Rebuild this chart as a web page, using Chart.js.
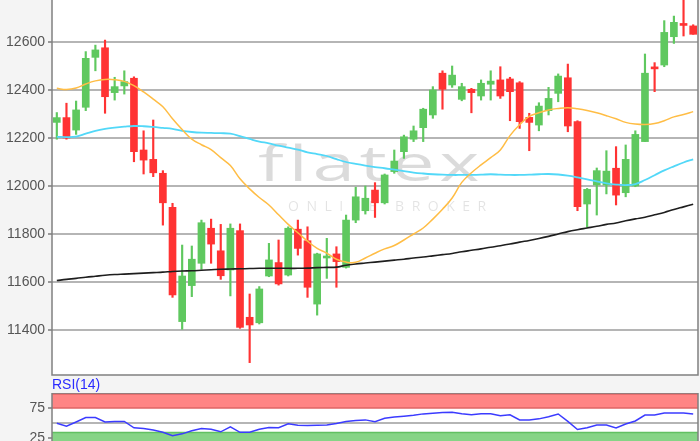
<!DOCTYPE html>
<html>
<head>
<meta charset="utf-8">
<script src="https://cdn.jsdelivr.net/npm/chart.js@4/dist/chart.umd.min.js"></script>
<style>
  html, body { margin: 0; padding: 0; width: 700px; height: 441px; overflow: hidden; background: #f4f4f4; }
  #main { position: absolute; left: 0; top: 0; }
  #rsi { position: absolute; left: 0; top: 393px; }
  #rsiLabel { position: absolute; left: 52px; top: 376px; font: 14px "Liberation Sans", Arial, sans-serif; color: #2a2aff; line-height: 16px; }
</style>
</head>
<body>
<canvas id="main" width="700" height="377"></canvas>
<div id="rsiLabel">RSI(14)</div>
<canvas id="rsi" width="700" height="60"></canvas>
<script>
// kursdaten (ohlc)
const open  = [12265,12285,12233,12328,12536,12576,12389,12417,12449,12150,12111,12053,11911,11435,11585,11678,11824,11730,11650,11814,11453,11430,11625,11681,11629,11820,11772,11508,11700,11717,11661,11858,11897,11983,11930,12060,12143,12195,12243,12296,12470,12421,12361,12403,12375,12424,12442,12446,12430,12286,12254,12314,12386,12451,12268,11925,12004,12004,12074,11972,12000,12185,12492,12504,12622,12673,12667];
const high  = [12306,12345,12354,12560,12587,12608,12453,12480,12455,12230,12275,12064,11928,11754,11750,11858,11862,11840,11842,11842,11550,11581,11761,11775,11830,11858,11830,11720,11782,11747,11879,11995,12000,12014,12050,12150,12212,12250,12324,12414,12480,12500,12428,12407,12442,12480,12497,12453,12435,12303,12347,12411,12467,12508,12272,11990,12075,12147,12164,12171,12230,12550,12514,12689,12708,12800,12672];
const low   = [12195,12195,12215,12314,12480,12303,12358,12383,12101,12050,12039,11837,11536,11403,11539,11653,11678,11611,11542,11407,11264,11425,11622,11587,11625,11712,11536,11462,11615,11578,11658,11847,11883,11869,11925,12053,12115,12185,12185,12282,12320,12411,12355,12305,12358,12358,12365,12272,12240,12147,12230,12296,12351,12226,11897,11828,11879,11967,11921,11955,11997,12185,12393,12497,12594,12625,12632];
const close = [12285,12200,12317,12532,12567,12372,12414,12435,12143,12108,12055,11930,11546,11625,11695,11847,11758,11626,11824,11411,11421,11571,11692,11592,11824,11740,11578,11717,11706,11685,11858,11955,11949,11930,12046,12104,12205,12230,12320,12400,12403,12462,12414,12389,12428,12437,12375,12393,12268,12265,12333,12365,12458,12250,11914,11986,12064,12062,11962,12111,12215,12470,12488,12640,12682,12669,12632];

// gleitende durchschnitte
const sma20  = [12407,12402,12408,12425,12438,12444,12443,12436,12418,12392,12362,12330,12280,12235,12195,12172,12152,12118,12085,12030,11988,11952,11921,11880,11840,11805,11770,11740,11720,11695,11683,11682,11700,11720,11738,11752,11775,11800,11825,11862,11903,11950,12015,12055,12088,12118,12150,12210,12255,12290,12305,12317,12323,12326,12322,12315,12305,12293,12280,12265,12258,12256,12260,12272,12288,12298,12310];
const sma50  = [12205,12204,12206,12218,12230,12238,12243,12247,12250,12249,12246,12242,12238,12230,12225,12222,12221,12220,12218,12208,12196,12185,12178,12168,12160,12152,12140,12133,12125,12112,12100,12092,12085,12079,12074,12068,12062,12056,12052,12049,12047,12046,12046,12046,12047,12049,12047,12046,12046,12047,12049,12050,12048,12043,12036,12028,12019,12011,12006,12004,12008,12025,12045,12065,12082,12098,12111];
const sma200 = [11606,11611,11615,11620,11624,11628,11631,11633,11635,11637,11639,11641,11644,11646,11647,11649,11651,11653,11654,11655,11656,11657,11657,11657,11657,11657,11658,11660,11661,11662,11670,11675,11679,11683,11687,11691,11695,11700,11704,11709,11714,11719,11726,11732,11738,11745,11751,11758,11766,11773,11781,11790,11800,11810,11818,11825,11832,11840,11846,11855,11863,11870,11880,11890,11902,11913,11924];

// rsi(14)
const rsi = [49.5,44.8,51.7,59,59,51.7,52.6,52.6,41.9,41,38.3,34.5,28.8,31.9,37,40.9,39.7,35.3,43.6,34.5,34.5,39.7,42.6,42.2,48.8,46.2,46,46.2,46.6,49.1,52.6,54.3,55.2,52.2,57.8,59.8,61.2,62.9,65.2,66.4,67.6,68.1,65.5,63.8,65.5,65.5,62.1,63.8,55.2,55.2,56.9,60.3,65,52.6,39.1,42.2,46.6,46.6,41.9,48.3,53.4,63.3,63.3,66.7,66.7,66.7,65];

const days = open.map((_, i) => i + 1);
const yTicks = [11400, 11600, 11800, 12000, 12200, 12400, 12600];
const rsiTicks = [25, 50, 75];
const rsiBands = { over: 75, under: 34 };

const green = '#5fc85f';
const red = '#ff3333';
const candleColor = open.map((o, i) => close[i] >= o ? green : red);
const tickFont = { family: '"Liberation Sans", Arial, sans-serif', size: 14 };

// weisser plotbereich + rahmen
const panel = {
  id: 'panel',
  beforeDraw(chart) {
    const { ctx, chartArea: a } = chart;
    ctx.save();
    ctx.fillStyle = '#fff';
    ctx.fillRect(a.left, a.top, a.right - a.left, a.bottom - a.top);
    ctx.restore();
  },
  afterDraw(chart) {
    const { ctx, chartArea: a } = chart;
    ctx.save();
    ctx.strokeStyle = '#808080';
    ctx.lineWidth = 1.5;
    ctx.beginPath();
    ctx.moveTo(a.left, a.top);
    ctx.lineTo(a.left, a.bottom);
    if (chart.canvas.id === 'main') {
      ctx.lineTo(a.right, a.bottom);
      ctx.lineTo(a.right, a.top);
    } else {
      ctx.moveTo(a.left, a.top);
      ctx.lineTo(a.right, a.top);
      ctx.lineTo(a.right, a.bottom);
    }
    ctx.stroke();
    ctx.restore();
  }
};

const watermark = {
  id: 'watermark',
  beforeDatasetsDraw(chart) {
    const ctx = chart.ctx;
    ctx.save();
    ctx.fillStyle = 'rgba(0,0,0,0.14)';
    ctx.font = '500 50px "Open Sans"';
    ctx.letterSpacing = '3px';
    ctx.textBaseline = 'alphabetic';
    const w = ctx.measureText('flatex').width;
    const target = 226;
    ctx.translate(258, 181);
    ctx.scale(target / w, 1);
    ctx.fillText('flatex', 0, 0);
    ctx.restore();

    ctx.save();
    ctx.fillStyle = 'rgba(0,0,0,0.11)';
    ctx.font = '14px "Open Sans"';
    ctx.letterSpacing = '7.5px';
    ctx.fillText('ONLINE BROKER', 288, 211);
    ctx.restore();
  }
};

const bands = {
  id: 'bands',
  beforeDatasetsDraw(chart) {
    const { ctx, chartArea: a, scales: { y } } = chart;
    const yOver = y.getPixelForValue(rsiBands.over);
    const yUnder = y.getPixelForValue(rsiBands.under);
    ctx.save();
    ctx.fillStyle = '#ff8585';
    ctx.fillRect(a.left, a.top, a.right - a.left, yOver - a.top);
    ctx.fillStyle = '#86d486';
    ctx.fillRect(a.left, yUnder, a.right - a.left, a.bottom - yUnder);
    ctx.lineWidth = 1.5;
    ctx.strokeStyle = '#e06565';
    ctx.beginPath();
    ctx.moveTo(a.left, a.top + 1); ctx.lineTo(a.right, a.top + 1);
    ctx.moveTo(a.left, yOver); ctx.lineTo(a.right, yOver);
    ctx.stroke();
    ctx.strokeStyle = '#62c062';
    ctx.beginPath();
    ctx.moveTo(a.left, yUnder); ctx.lineTo(a.right, yUnder);
    ctx.stroke();
    ctx.restore();
  }
};

const fixAxis = s => { s.width = 52; s.paddingTop = 0; s.paddingBottom = 0; };

new Chart(document.getElementById('main'), {
  type: 'bar',
  data: {
    labels: days,
    datasets: [
      { type: 'line', data: sma20, borderColor: '#ffbd45', borderWidth: 1.5, pointRadius: 0, tension: 0.4, order: 0 },
      { type: 'line', data: sma50, borderColor: '#52d8f8', borderWidth: 1.8, pointRadius: 0, tension: 0.4, order: 0 },
      { type: 'line', data: sma200, borderColor: '#1e1e1e', borderWidth: 1.6, pointRadius: 0, tension: 0.4, order: 0 },
      { data: open.map((o, i) => [o, close[i]]), backgroundColor: candleColor, barThickness: 7, minBarLength: 2, grouped: false, order: 1 },
      { data: low.map((l, i) => [l, high[i]]), backgroundColor: candleColor, barThickness: 1.5, grouped: false, order: 2 }
    ]
  },
  options: {
    responsive: false,
    animation: false,
    layout: { padding: { top: 0, right: 2, bottom: 2, left: 0 } },
    plugins: { legend: { display: false }, tooltip: { enabled: false } },
    scales: {
      x: { display: false, offset: true },
      y: {
        min: 11212.5,
        max: 12775,
        afterBuildTicks: s => { s.ticks = yTicks.map(v => ({ value: v })); },
        afterFit: fixAxis,
        ticks: { font: tickFont, color: '#555', padding: 3, callback: v => String(v) },
        grid: { color: '#b5b5b5', lineWidth: 2, tickLength: 4, tickColor: '#999' },
        border: { display: false }
      }
    }
  },
  plugins: [panel, watermark]
});

new Chart(document.getElementById('rsi'), {
  type: 'line',
  data: {
    labels: days,
    datasets: [
      { data: rsi, borderColor: '#3b3bff', borderWidth: 1.5, pointRadius: 0, tension: 0 }
    ]
  },
  options: {
    responsive: false,
    animation: false,
    layout: { padding: { top: 0, right: 2, bottom: 0, left: 0 } },
    plugins: { legend: { display: false }, tooltip: { enabled: false } },
    scales: {
      x: { display: false, offset: true },
      y: {
        min: 0,
        max: 100,
        afterBuildTicks: s => { s.ticks = rsiTicks.map(v => ({ value: v })); },
        afterFit: fixAxis,
        ticks: { font: tickFont, color: '#555', padding: 3, callback: v => v === 50 ? '' : String(v) },
        grid: {
          color: c => c.tick && c.tick.value === 50 ? '#b5b5b5' : 'transparent',
          tickColor: c => c.tick && c.tick.value === 50 ? 'transparent' : '#999',
          lineWidth: 2,
          tickLength: 4
        },
        border: { display: false }
      }
    }
  },
  plugins: [panel, bands]
});
</script>
</body>
</html>
